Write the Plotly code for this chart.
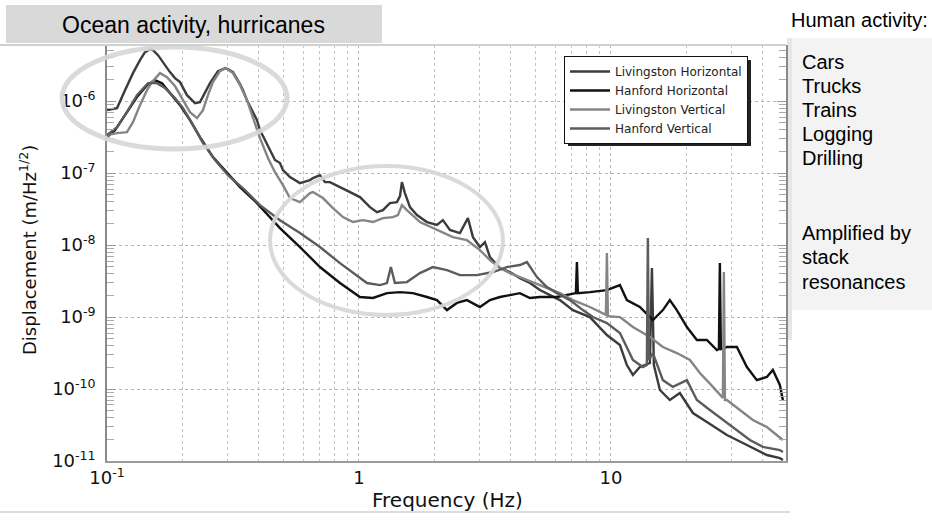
import plotly.graph_objects as go

W, H = 932, 521

# ---------------- data ----------------
freq_lh = [0.100, 0.1096, 0.1179, 0.1268, 0.1352, 0.1415, 0.1481, 0.1522, 0.1594, 0.1699,
           0.1778, 0.1861, 0.1949, 0.2077, 0.2175, 0.2235, 0.2339, 0.2448, 0.2563, 0.2757,
           0.2940, 0.3021, 0.3162, 0.3372, 0.3466, 0.3594, 0.3762, 0.3938, 0.4048, 0.4314,
           0.4435, 0.4642, 0.4859, 0.4994, 0.5323, 0.5833, 0.6393, 0.6570, 0.7003, 0.7330,
           0.7673, 0.8407, 0.9211, 1.009, 1.106, 1.179, 1.245, 1.327, 1.415, 1.455,
           1.481, 1.522, 1.594, 1.699, 1.861, 2.040, 2.154, 2.297, 2.516, 2.707,
           2.835, 3.021, 3.162, 3.311, 3.627, 3.974, 4.354, 4.771, 5.227, 5.727,
           6.276, 7.067, 8.254, 9.642, 10.86, 11.57, 12.23, 13.03, 14.28, 14.55,
           14.81, 15.65, 17.14, 18.78, 21.16, 24.04, 28.86, 34.66, 41.59, 46.84, 48.15]
disp_lh = [7.50e-7, 8.00e-7, 1.42e-6, 2.45e-6, 3.71e-6, 4.80e-6, 5.28e-6, 5.11e-6, 4.35e-6, 3.16e-6,
           2.53e-6, 2.09e-6, 1.84e-6, 1.21e-6, 1.03e-6, 9.38e-7, 9.69e-7, 1.29e-6, 1.78e-6, 2.61e-6,
           2.87e-6, 2.78e-6, 2.53e-6, 1.72e-6, 1.42e-6, 1.03e-6, 7.50e-7, 5.45e-7, 3.96e-7, 2.45e-7,
           2.09e-7, 1.52e-7, 1.38e-7, 1.10e-7, 8.80e-8, 7.26e-8, 8.00e-8, 8.52e-8, 9.38e-8, 7.50e-8,
           7.50e-8, 6.39e-8, 5.45e-8, 4.64e-8, 3.37e-8, 2.87e-8, 3.06e-8, 3.83e-8, 3.96e-8, 4.80e-8,
           7.50e-8, 5.28e-8, 3.37e-8, 2.61e-8, 2.09e-8, 1.90e-8, 2.22e-8, 1.62e-8, 1.47e-8, 2.37e-8,
           1.29e-8, 9.38e-9, 1.10e-8, 6.81e-9, 4.80e-9, 4.22e-9, 3.48e-9, 2.97e-9, 2.37e-9, 2.02e-9,
           1.72e-9, 1.25e-9, 1.00e-9, 5.62e-10, 4.08e-10, 2.15e-10, 1.57e-10, 2.02e-10, 2.30e-10, 4.80e-9,
           2.15e-10, 9.69e-11, 7.03e-11, 8.80e-11, 4.64e-11, 3.48e-11, 2.30e-11, 1.67e-11, 1.21e-11, 1.10e-11, 1.03e-11]

freq_hh = [0.100, 0.1076, 0.1179, 0.1315, 0.1441, 0.1550, 0.1653, 0.1811, 0.1949, 0.2135,
           0.2339, 0.2634, 0.2994, 0.3372, 0.3938, 0.4354, 0.4859, 0.5833, 0.7003, 0.8407,
           1.009, 1.137, 1.292, 1.455, 1.638, 1.861, 2.040, 2.235, 2.448, 2.683,
           3.021, 3.311, 3.627, 3.974, 4.354, 4.771, 5.227, 6.105, 7.067, 7.262,
           7.330, 7.396, 8.254, 9.642, 10.86, 11.57, 13.03, 14.68, 16.08, 17.14,
           18.27, 20.03, 21.94, 24.04, 26.34, 26.83, 27.07, 27.32, 28.86, 31.62,
           34.66, 37.96, 41.59, 43.94, 46.84, 48.15]
disp_hh = [3.16e-7, 3.96e-7, 6.39e-7, 1.14e-6, 1.67e-6, 1.96e-6, 1.78e-6, 1.21e-6, 8.80e-7, 5.45e-7,
           3.16e-7, 1.67e-7, 1.00e-7, 6.39e-8, 3.83e-8, 2.61e-8, 1.72e-8, 9.38e-9, 4.95e-9, 2.97e-9,
           1.90e-9, 1.84e-9, 2.15e-9, 2.22e-9, 2.15e-9, 1.90e-9, 1.72e-9, 1.25e-9, 1.57e-9, 1.72e-9,
           1.38e-9, 1.72e-9, 1.90e-9, 2.02e-9, 2.15e-9, 1.84e-9, 1.90e-9, 1.90e-9, 2.15e-9, 2.15e-9,
           5.81e-9, 2.15e-9, 2.22e-9, 2.37e-9, 2.78e-9, 1.72e-9, 1.38e-9, 9.09e-10, 1.25e-9, 1.72e-9,
           1.25e-9, 7.26e-10, 4.80e-10, 4.80e-10, 3.48e-10, 3.59e-10, 5.62e-9, 3.59e-10, 3.83e-10, 3.83e-10,
           2.02e-10, 1.33e-10, 1.47e-10, 1.84e-10, 1.14e-10, 7.03e-11]

freq_lv = [0.100, 0.1096, 0.1200, 0.1268, 0.1352, 0.1441, 0.1509, 0.1623, 0.1730, 0.1861,
           0.2003, 0.2135, 0.2276, 0.2404, 0.2516, 0.2634, 0.2808, 0.2967, 0.3162, 0.3372,
           0.3594, 0.3762, 0.4048, 0.4354, 0.4642, 0.4994, 0.5323, 0.5833, 0.6393, 0.6570,
           0.7197, 0.7886, 0.8642, 0.9467, 1.037, 1.137, 1.245, 1.364, 1.428, 1.481,
           1.550, 1.746, 2.040, 2.360, 2.683, 3.021, 3.311, 3.627, 3.974, 4.354,
           5.227, 6.276, 7.067, 8.254, 9.554, 9.642, 9.730, 10.86, 12.23, 14.28,
           16.08, 18.27, 20.59, 22.55, 25.41, 27.83, 28.08, 28.35, 28.86, 32.50,
           36.60, 41.59, 46.84, 48.15]
disp_lv = [3.37e-7, 3.59e-7, 3.71e-7, 5.11e-7, 8.80e-7, 1.42e-6, 1.84e-6, 2.45e-6, 2.15e-6, 1.62e-6,
           1.03e-6, 7.03e-7, 5.81e-7, 7.50e-7, 1.21e-6, 1.84e-6, 2.61e-6, 2.87e-6, 2.45e-6, 1.67e-6,
           1.03e-6, 6.39e-7, 3.06e-7, 1.62e-7, 1.03e-7, 6.81e-8, 4.50e-8, 3.96e-8, 5.28e-8, 5.45e-8,
           4.50e-8, 3.27e-8, 2.45e-8, 2.09e-8, 2.22e-8, 2.09e-8, 2.37e-8, 2.45e-8, 2.61e-8, 3.59e-8,
           3.06e-8, 2.09e-8, 1.62e-8, 1.29e-8, 1.17e-8, 8.52e-9, 6.19e-9, 4.80e-9, 4.08e-9, 3.59e-9,
           2.78e-9, 2.15e-9, 1.72e-9, 1.38e-9, 1.07e-9, 7.74e-9, 1.03e-9, 1.00e-9, 7.26e-10, 5.28e-10,
           3.83e-10, 3.16e-10, 2.53e-10, 1.67e-10, 1.07e-10, 7.50e-11, 4.22e-9, 7.03e-11, 7.03e-11, 5.11e-11,
           3.71e-11, 2.97e-11, 2.15e-11, 1.96e-11]

freq_hv = [0.100, 0.1096, 0.1200, 0.1315, 0.1455, 0.1579, 0.1699, 0.1861, 0.2003, 0.2175,
           0.2404, 0.2683, 0.3021, 0.3529, 0.4048, 0.4435, 0.4859, 0.5833, 0.7003, 0.8407,
           0.9467, 1.076, 1.212, 1.292, 1.339, 1.389, 1.550, 1.746, 1.966, 2.235,
           2.516, 2.940, 3.402, 3.867, 4.354, 4.642, 5.085, 5.572, 6.105, 6.877,
           7.743, 8.483, 9.642, 10.86, 12.23, 13.39, 13.89, 14.02, 14.15, 14.68,
           16.08, 17.62, 20.03, 21.94, 24.71, 27.83, 31.62, 35.62, 40.10, 46.84, 48.15]
disp_hv = [3.37e-7, 4.35e-7, 7.03e-7, 1.21e-6, 1.78e-6, 1.78e-6, 1.52e-6, 1.10e-6, 8.00e-7, 4.95e-7,
           2.61e-7, 1.52e-7, 9.38e-8, 5.81e-8, 3.59e-8, 2.78e-8, 2.22e-8, 1.47e-8, 9.38e-9, 5.62e-9,
           4.08e-9, 2.97e-9, 2.78e-9, 2.97e-9, 4.95e-9, 2.97e-9, 3.06e-9, 4.08e-9, 4.95e-9, 4.50e-9,
           3.83e-9, 3.83e-9, 4.22e-9, 4.95e-9, 5.28e-9, 5.81e-9, 3.59e-9, 2.61e-9, 2.15e-9, 1.72e-9,
           1.25e-9, 1.00e-9, 8.25e-10, 6.00e-10, 2.53e-10, 2.02e-10, 2.15e-10, 1.25e-8, 2.53e-10, 3.16e-10,
           1.33e-10, 1.07e-10, 1.33e-10, 7.03e-11, 5.11e-11, 3.71e-11, 2.70e-11, 1.96e-11, 1.57e-11, 1.42e-11, 1.33e-11]

series_names = ["Livingston Horizontal", "Hanford Horizontal", "Livingston Vertical", "Hanford Vertical"]
series_colors = ["#3c3c3c", "#111111", "#858585", "#5c5c5c"]

x_tickvals = [0.1, 1, 10]
x_ticktext = ["10<sup>-1</sup>", "1", "10"]
y_tickvals = [1e-11, 1e-10, 1e-9, 1e-8, 1e-7, 1e-6]
y_ticktext = ["10<sup>-11</sup>", "10<sup>-10</sup>", "10<sup>-9</sup>",
              "10<sup>-8</sup>", "10<sup>-7</sup>", "10<sup>-6</sup>"]

right_lines = ["Cars", "Trucks", "Trains", "Logging", "Drilling", "Amplified by", "stack", "resonances"]
right_line_y = [62, 86, 110, 134, 158, 233, 257, 282]

# ---------------- helpers for layout placement ----------------
def px(x):
    return x / W

def py(y):
    return 1 - y / H

SLIDE_FONT = "Arial, 'Liberation Sans', Helvetica, sans-serif"
PLOT_FONT = "'DejaVu Sans', Verdana, sans-serif"

fig = go.Figure()
data = [(freq_lh, disp_lh), (freq_hh, disp_hh), (freq_lv, disp_lv), (freq_hv, disp_hv)]
for (f, d), name, col in zip(data, series_names, series_colors):
    fig.add_trace(go.Scatter(x=f, y=d, mode="lines", name=name,
                             line=dict(color=col, width=2.4)))

minor_x = [m * 10 ** e for e in (-1, 0, 1) for m in range(2, 10) if m * 10 ** e < 50]
minor_y = [m * 10.0 ** e for e in range(-11, -5) for m in range(2, 10)]

fig.update_layout(
    width=W, height=H, autosize=False,
    margin=dict(l=0, r=0, t=0, b=0, pad=0, autoexpand=False),
    paper_bgcolor="white", plot_bgcolor="white",
    font=dict(family=PLOT_FONT, color="#111"),
    xaxis=dict(type="log", domain=[px(107), px(786)], range=[-1, 1.695],
               automargin=False,
               tickvals=x_tickvals, ticktext=x_ticktext, ticks="",
               tickfont=dict(size=18, color="#111", family=PLOT_FONT),
               showgrid=True, gridcolor="#b5b5b5", griddash="dot", gridwidth=1,
               minor=dict(tickvals=minor_x, showgrid=True, gridcolor="#c4c4c4",
                          griddash="dot", gridwidth=1, ticks=""),
               showline=True, linecolor="#9a9a9a", linewidth=1.5,
               zeroline=False, anchor="y"),
    yaxis=dict(type="log", domain=[py(461), py(45)], range=[-11, -5.22],
               automargin=False,
               tickvals=y_tickvals, ticktext=y_ticktext,
               ticks="inside", ticklen=9, tickcolor="#999", ticklabelstandoff=6,
               tickfont=dict(size=18, color="#111", family=PLOT_FONT),
               showgrid=True, gridcolor="#b5b5b5", griddash="dot", gridwidth=1,
               minor=dict(tickvals=minor_y, ticks="inside", ticklen=7,
                          tickcolor="#aaa", showgrid=False),
               showline=True, linecolor="#8a8a8a", linewidth=1.5, mirror="ticks",
               zeroline=False, anchor="x"),
    showlegend=True,
    legend=dict(x=px(564), y=py(56), xanchor="left", yanchor="top",
                bgcolor="white", bordercolor="#111", borderwidth=1,
                font=dict(size=12, color="#222", family=PLOT_FONT),
                tracegroupgap=0, itemwidth=40),
)

shapes = []
# legend shadow (sits just behind the legend box, offset down-right)
shapes.append(dict(type="rect", xref="paper", yref="paper", layer="above",
                   x0=px(568), x1=px(751), y0=py(146), y1=py(60),
                   fillcolor="#222", line=dict(width=0)))
# ellipses
shapes.append(dict(type="circle", xref="paper", yref="paper", layer="above",
                   x0=px(62), x1=px(287), y0=py(149), y1=py(47),
                   line=dict(color="rgba(215,215,215,0.92)", width=5)))
shapes.append(dict(type="circle", xref="paper", yref="paper", layer="above",
                   x0=px(270), x1=px(503), y0=py(315), y1=py(166),
                   line=dict(color="rgba(215,215,215,0.92)", width=4)))
# top title box & underline
shapes.append(dict(type="rect", xref="paper", yref="paper", layer="above",
                   x0=px(6), x1=px(382), y0=py(43), y1=py(5),
                   fillcolor="#d9d9d9", line=dict(width=0)))
shapes.append(dict(type="line", xref="paper", yref="paper", layer="above",
                   x0=0, x1=px(786), y0=py(45), y1=py(45),
                   line=dict(color="#d0d0d0", width=2)))
# right side boxes
shapes.append(dict(type="rect", xref="paper", yref="paper", layer="below",
                   x0=px(792), x1=1, y0=py(310), y1=py(38),
                   fillcolor="#f3f3f3", line=dict(width=0)))
shapes.append(dict(type="rect", xref="paper", yref="paper", layer="below",
                   x0=px(787), x1=px(792), y0=py(340), y1=py(38),
                   fillcolor="#e6e6e6", line=dict(width=0)))
# bottom line
shapes.append(dict(type="line", xref="paper", yref="paper", layer="below",
                   x0=0, x1=px(790), y0=py(512), y1=py(512),
                   line=dict(color="#dcdcdc", width=2)))
fig.update_layout(shapes=shapes)

ann = []
ann.append(dict(text="Ocean activity, hurricanes", x=px(193), y=py(25), xref="paper", yref="paper",
                xanchor="center", yanchor="middle", showarrow=False,
                font=dict(size=23, color="#000", family=SLIDE_FONT)))
ann.append(dict(text="Human activity:", x=px(789), y=py(20), xref="paper", yref="paper",
                xanchor="left", yanchor="middle", showarrow=False,
                font=dict(size=20, color="#000", family=SLIDE_FONT)))
for t, yy in zip(right_lines, right_line_y):
    ann.append(dict(text=t, x=px(800), y=py(yy), xref="paper", yref="paper",
                    xanchor="left", yanchor="middle", showarrow=False,
                    font=dict(size=20, color="#000", family=SLIDE_FONT)))
ann.append(dict(text="Frequency (Hz)", x=px(447), y=py(500), xref="paper", yref="paper",
                xanchor="center", yanchor="middle", showarrow=False,
                font=dict(size=20, color="#111", family=PLOT_FONT)))
ann.append(dict(text="Displacement (m/Hz<sup>1/2</sup>)", x=px(28), y=py(250), xref="paper", yref="paper",
                xanchor="center", yanchor="middle", showarrow=False, textangle=-90,
                font=dict(size=18, color="#111", family=PLOT_FONT)))
fig.update_layout(annotations=ann)

fig.write_html("out.html",
               config={"displayModeBar": False},
               post_script="document.body.style.margin='0';document.body.style.overflow='hidden';")
